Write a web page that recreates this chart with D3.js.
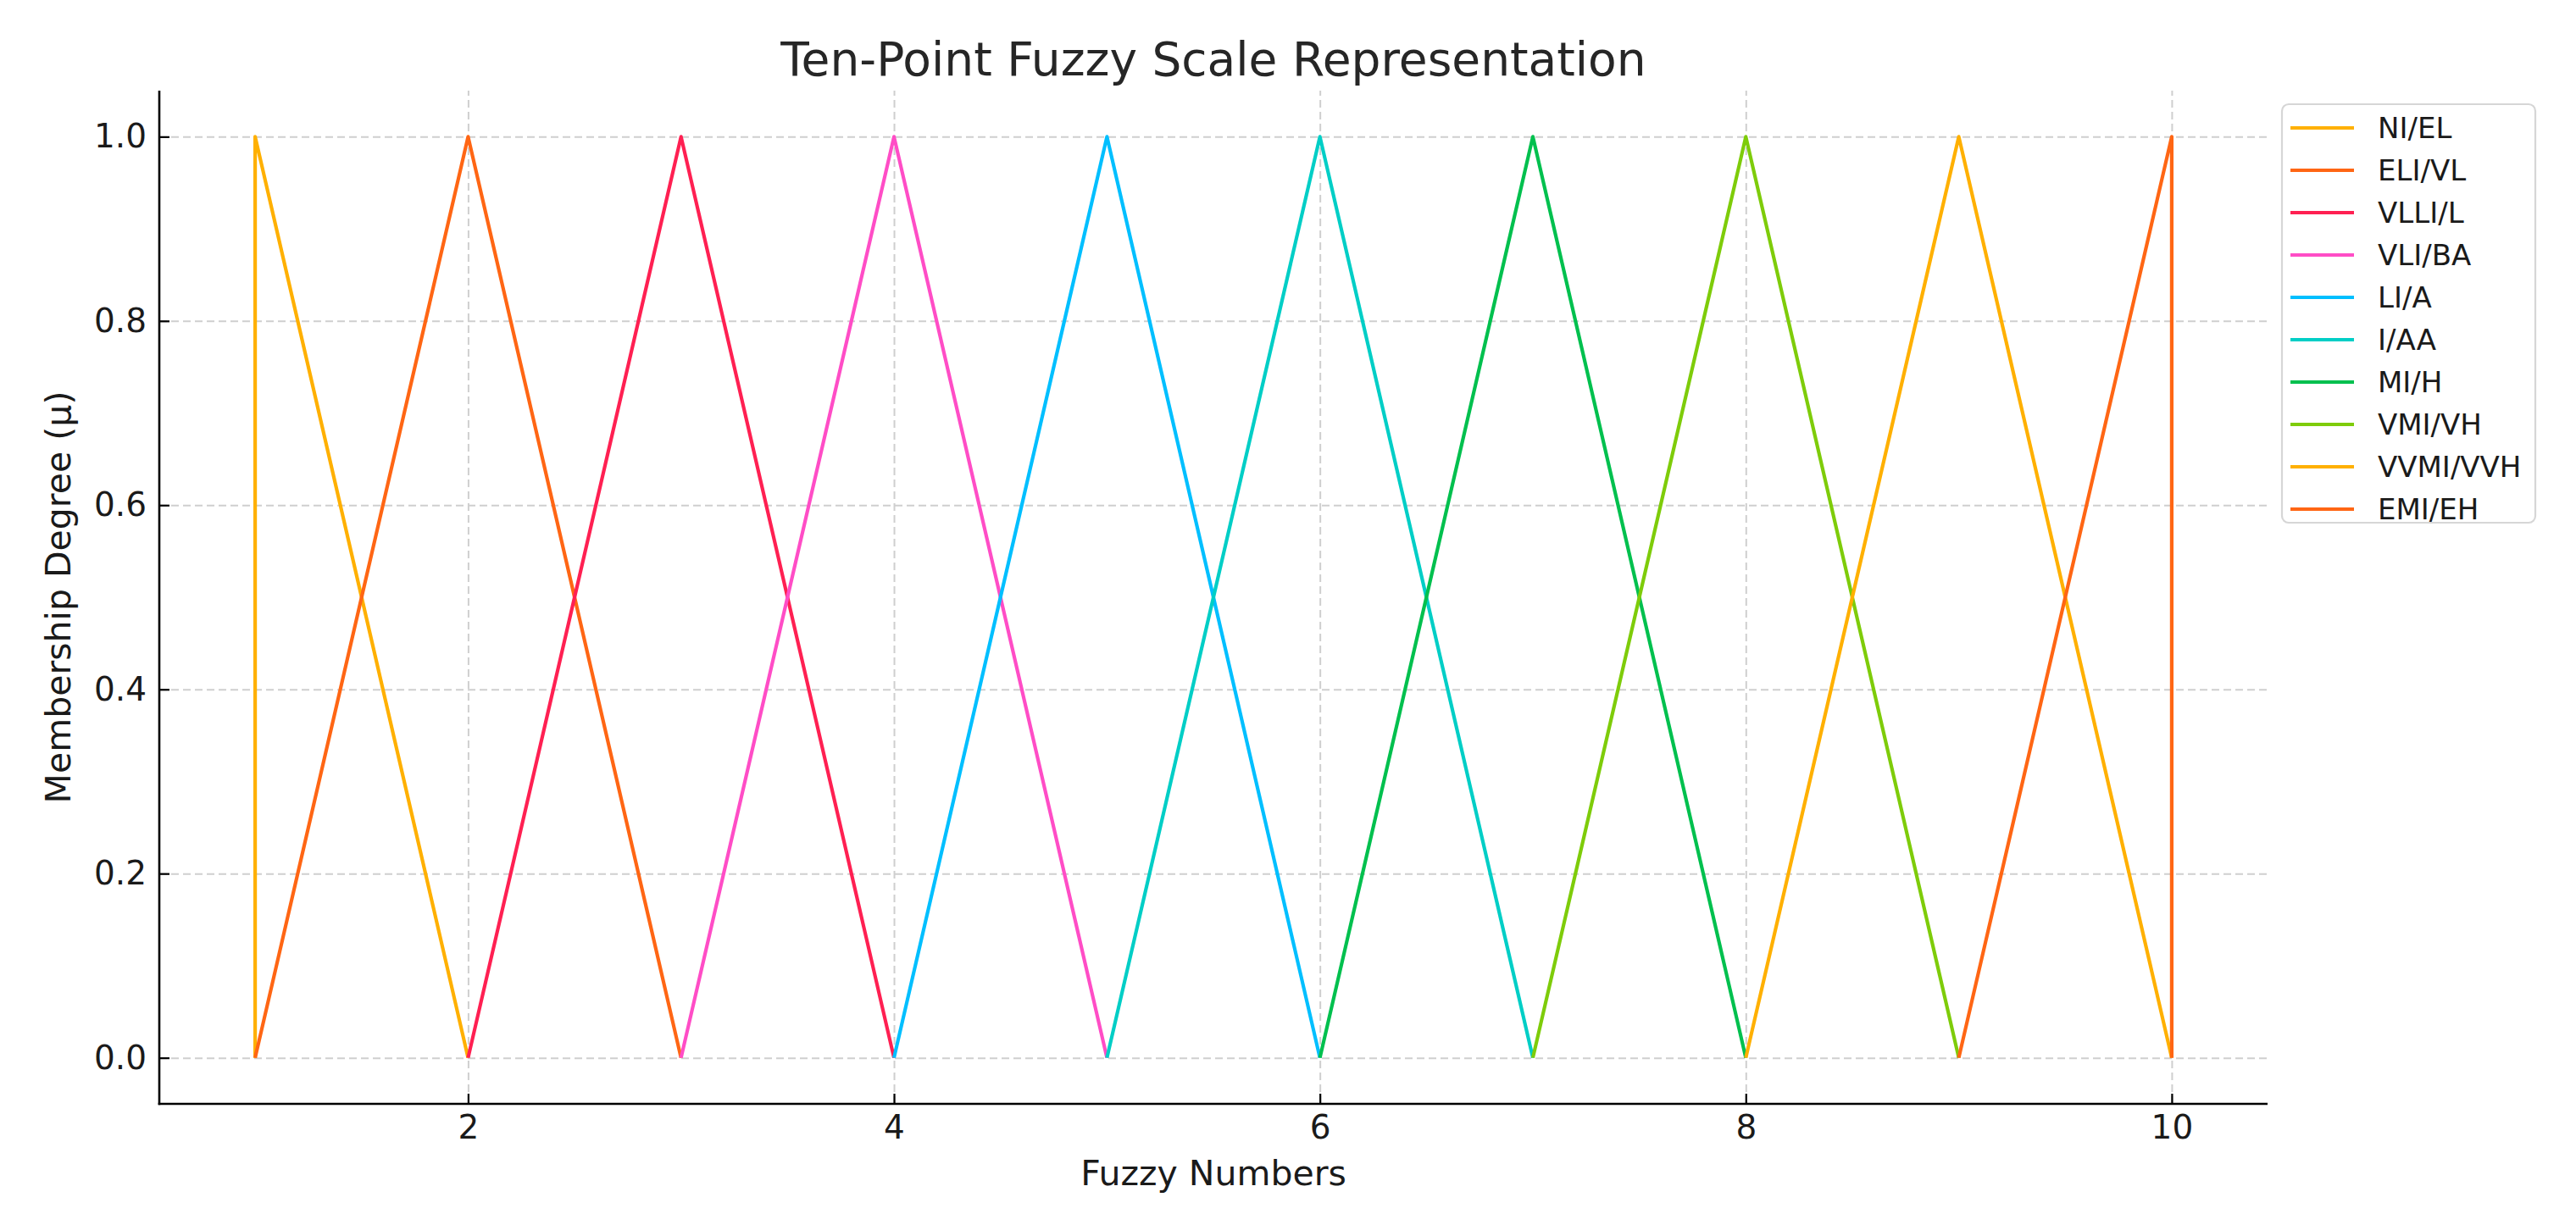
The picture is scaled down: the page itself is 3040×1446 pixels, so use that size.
<!DOCTYPE html>
<html>
<head>
<meta charset="utf-8">
<script src="https://cdn.jsdelivr.net/npm/d3@7"></script>
<style>
  html, body { margin: 0; padding: 0; background: #ffffff; }
  svg { display: block; }
  text { font-family: "DejaVu Sans", sans-serif; }
</style>
</head>
<body>
<svg id="chart" width="3040" height="1446"></svg>
<script>
// ---- data ----
const seriesNames = ["NI/EL", "ELI/VL", "VLLI/L", "VLI/BA", "LI/A", "I/AA", "MI/H", "VMI/VH", "VVMI/VVH", "EMI/EH"];
const lowerValues = [1, 1, 2, 3, 4, 5, 6, 7, 8, 9];
const middleValues = [1, 2, 3, 4, 5, 6, 7, 8, 9, 10];
const upperValues = [2, 3, 4, 5, 6, 7, 8, 9, 10, 10];
const seriesColors = ["#FFB000", "#FF6614", "#FF2052", "#FF4DC6", "#00BFFF", "#00CEC6", "#00C04E", "#7ECC0A", "#FFB000", "#FF6614"];
const xTickValues = [2, 4, 6, 8, 10];
const yTickValues = [0.0, 0.2, 0.4, 0.6, 0.8, 1.0];
const titleText = "Ten-Point Fuzzy Scale Representation";
const xLabelText = "Fuzzy Numbers";
const yLabelText = "Membership Degree (\u03bc)";

(function () {
// ---- layout ----
const W = 3040, H = 1446;
const pL = 188, pR = 2676, pT = 107, pB = 1303;
const svg = d3.select("#chart");
svg.append("rect").attr("width", W).attr("height", H).attr("fill", "#ffffff");

const x = d3.scaleLinear().domain([0.55, 10.45]).range([pL, pR]);
const y = d3.scaleLinear().domain([-0.05, 1.05]).range([pB, pT]);

// grid
const gridColor = "#cfcfcf";
const gx = svg.append("g").attr("transform", `translate(0,${pB})`)
  .call(d3.axisBottom(x).tickValues(xTickValues).tickSize(-(pB - pT)).tickFormat(""));
gx.select(".domain").remove();
gx.selectAll("line").attr("stroke", gridColor).attr("stroke-width", 2).attr("stroke-dasharray", "9,5");
const gy = svg.append("g").attr("transform", `translate(${pL},0)`)
  .call(d3.axisLeft(y).tickValues(yTickValues).tickSize(-(pR - pL)).tickFormat(""));
gy.select(".domain").remove();
gy.selectAll("line").attr("stroke", gridColor).attr("stroke-width", 2).attr("stroke-dasharray", "9,5");

// lines
const lineGen = d3.line().x(d => x(d[0])).y(d => y(d[1]));
seriesNames.forEach((name, i) => {
  const pts = [[lowerValues[i], 0], [middleValues[i], 1], [upperValues[i], 0]];
  svg.append("path").datum(pts)
    .attr("d", lineGen)
    .attr("fill", "none")
    .attr("stroke", seriesColors[i])
    .attr("stroke-width", 4.2)
    .attr("stroke-linejoin", "round")
    .attr("stroke-linecap", "butt");
});

// axes
const tickFont = 39;
const ax = svg.append("g").attr("transform", `translate(0,${pB})`)
  .call(d3.axisBottom(x).tickValues(xTickValues).tickSizeInner(-12).tickSizeOuter(0).tickPadding(13).tickFormat(d3.format("d")));
const ay = svg.append("g").attr("transform", `translate(${pL},0)`)
  .call(d3.axisLeft(y).tickValues(yTickValues).tickSizeInner(-12).tickSizeOuter(0).tickPadding(15).tickFormat(d3.format(".1f")));
[ax, ay].forEach(g => {
  g.select(".domain").attr("stroke", "#000").attr("stroke-width", 2.6);
  g.selectAll(".tick line").attr("stroke", "#000").attr("stroke-width", 2.2);
  g.selectAll(".tick text").attr("fill", "#1a1a1a").style("font-size", tickFont + "px").style("font-family", "DejaVu Sans");
});
ax.select(".domain").attr("d", `M${pL - 1.3},0H${pR}`);
ay.select(".domain").attr("d", `M0,${pT}V${pB + 1.3}`);

// title and labels
svg.append("text").attr("x", (pL + pR) / 2).attr("y", 89)
  .attr("text-anchor", "middle").style("font-size", "55px").attr("fill", "#262626").text(titleText);
svg.append("text").attr("x", (pL + pR) / 2).attr("y", 1399)
  .attr("text-anchor", "middle").style("font-size", "41px").attr("fill", "#1a1a1a").text(xLabelText);
svg.append("text").attr("transform", `translate(83,${(pT + pB) / 2}) rotate(-90)`)
  .attr("text-anchor", "middle").style("font-size", "41px").attr("fill", "#1a1a1a").text(yLabelText);

// legend
const lg = svg.append("g");
lg.append("rect").attr("x", 2693).attr("y", 123).attr("width", 299).attr("height", 494)
  .attr("rx", 8).attr("fill", "#ffffff").attr("fill-opacity", 0.8)
  .attr("stroke", "#d6d6d6").attr("stroke-width", 2.2);
seriesNames.forEach((name, i) => {
  const yy = 151 + 50 * i;
  lg.append("line").attr("x1", 2703).attr("x2", 2778).attr("y1", yy).attr("y2", yy)
    .attr("stroke", seriesColors[i]).attr("stroke-width", 4.2);
  lg.append("text").attr("x", 2806).attr("y", yy + 12).style("font-size", "34px")
    .attr("fill", "#1a1a1a").text(name);
});
})();
</script>
</body>
</html>
